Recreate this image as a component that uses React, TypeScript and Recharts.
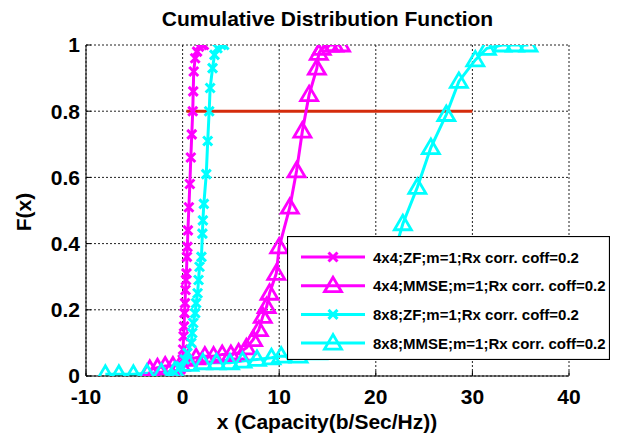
import React from "react";
import { LineChart, Line, XAxis, YAxis, CartesianGrid, Legend, Label } from "recharts";

const FONT = "'Liberation Sans', Arial, Helvetica, sans-serif";

const xTicks = [-10, 0, 10, 20, 30, 40];
const yTicks = [0, 0.2, 0.4, 0.6, 0.8, 1];

const seriesNames = [
  "4x4;ZF;m=1;Rx corr. coff=0.2",
  "4x4;MMSE;m=1;Rx corr. coff=0.2",
  "8x8;ZF;m=1;Rx corr. coff=0.2",
  "8x8;MMSE;m=1;Rx corr. coff=0.2",
];

// 4x4 ZF
const zf4Cap = [-1.0, -0.5, -0.2, 0.0, 0.05, 0.1, 0.15, 0.2, 0.25, 0.3, 0.35, 0.4, 0.45, 0.5, 0.55, 0.65, 0.75, 0.85, 0.95, 1.05, 1.1, 1.15, 1.3, 1.5, 1.7, 2.0, 2.2];
const zf4Cdf = [0.0, 0.005, 0.02, 0.05, 0.08, 0.12, 0.15, 0.19, 0.22, 0.26, 0.29, 0.31, 0.36, 0.39, 0.44, 0.51, 0.58, 0.66, 0.73, 0.8, 0.86, 0.92, 0.96, 0.98, 0.995, 1.0, 1.0];

// 4x4 MMSE
const mmse4Cap = [-3.4, -2.6, -1.8, -1.0, -0.2, 0.5, 1.4, 2.3, 3.2, 4.1, 5.0, 5.8, 6.6, 7.3, 7.9, 8.3, 8.7, 9.0, 9.7, 10.0, 11.1, 11.8, 12.4, 13.1, 13.9, 14.1, 14.4, 15.2, 15.7, 16.4];
const mmse4Cdf = [0.02, 0.025, 0.03, 0.03, 0.035, 0.05, 0.055, 0.06, 0.06, 0.065, 0.065, 0.07, 0.085, 0.11, 0.14, 0.18, 0.21, 0.25, 0.31, 0.39, 0.51, 0.62, 0.74, 0.85, 0.93, 0.975, 0.99, 1.0, 1.0, 1.0];

// 8x8 ZF
const zf8Cap = [-1.5, -0.8, -0.2, 0.2, 0.5, 0.9, 1.0, 1.1, 1.3, 1.4, 1.55, 1.65, 1.75, 1.95, 2.05, 2.1, 2.2, 2.45, 2.6, 2.75, 2.85, 3.1, 3.3, 3.6, 4.0, 4.3];
const zf8Cdf = [0.0, 0.01, 0.03, 0.05, 0.07, 0.1, 0.13, 0.16, 0.19, 0.22, 0.25, 0.29, 0.33, 0.36, 0.43, 0.47, 0.52, 0.61, 0.71, 0.8, 0.87, 0.93, 0.97, 0.99, 1.0, 1.0];

// 8x8 MMSE
const mmse8Cap = [-8.0, -6.6, -5.1, -3.7, -2.2, -0.8, 0.7, 2.1, 3.5, 4.9, 6.2, 7.7, 9.2, 10.2, 12.0, 14.0, 16.0, 18.0, 20.0, 21.5, 22.8, 24.3, 25.7, 27.3, 28.6, 30.3, 31.5, 33.1, 34.4, 35.8];
const mmse8Cdf = [0.005, 0.005, 0.005, 0.008, 0.01, 0.015, 0.035, 0.04, 0.04, 0.04, 0.045, 0.05, 0.055, 0.06, 0.06, 0.07, 0.08, 0.12, 0.2, 0.33, 0.46, 0.57, 0.69, 0.79, 0.89, 0.955, 0.99, 1.0, 1.0, 1.0];

// 0.8 reference level
const refCap = [0.4, 30];
const refCdf = [0.8, 0.8];

const zip = (xs: number[], ys: number[]) => xs.map((x, i) => ({ x, y: ys[i] }));

const series = [
  { name: seriesNames[0], color: "#ff00ff", marker: "x", data: zip(zf4Cap, zf4Cdf) },
  { name: seriesNames[1], color: "#ff00ff", marker: "tri", data: zip(mmse4Cap, mmse4Cdf) },
  { name: seriesNames[2], color: "#00ffff", marker: "x", data: zip(zf8Cap, zf8Cdf) },
  { name: seriesNames[3], color: "#00ffff", marker: "tri", data: zip(mmse8Cap, mmse8Cdf) },
];

function Marker({ cx, cy, color, kind }: any) {
  if (cx == null || cy == null) return null;
  if (kind === "x") {
    const s = 4.5;
    return (
      <path
        d={`M${cx - s},${cy - s}L${cx + s},${cy + s}M${cx - s},${cy + s}L${cx + s},${cy - s}`}
        stroke={color}
        strokeWidth={3}
        fill="none"
      />
    );
  }
  return (
    <path
      d={`M${cx},${cy - 8.5}L${cx - 8.5},${cy + 6}L${cx + 8.5},${cy + 6}Z`}
      stroke={color}
      strokeWidth={2.8}
      fill="none"
      strokeLinejoin="miter"
    />
  );
}

function LegendBox(props: any) {
  const shown = (props.payload || []).map((p: any) => p.value);
  const w = 323;
  const h = 124;
  return (
    <svg width={w} height={h} style={{ display: "block" }}>
      <rect x={0.5} y={0.5} width={w - 1} height={h - 1} fill="#fff" stroke="#000" strokeWidth={1.2} />
      {series
        .filter((s) => shown.includes(s.name))
        .map((s, i) => {
          const y = 21 + i * 28.7;
          return (
            <g key={s.name}>
              <line x1={14} x2={78} y1={y} y2={y} stroke={s.color} strokeWidth={3} />
              <Marker cx={46} cy={y} color={s.color} kind={s.marker} />
              <text x={86} y={y + 5.5} fontFamily={FONT} fontWeight="bold" fontSize={15} fill="#000">
                {s.name}
              </text>
            </g>
          );
        })}
    </svg>
  );
}

const tickStyle = { fill: "#000", fontSize: 21, fontWeight: "bold", fontFamily: FONT };

export default function App() {
  return (
    <div style={{ position: "absolute", left: 0, top: 0, width: 618, height: 442, background: "#fff" }}>
      <div
        style={{
          position: "absolute",
          left: 86,
          width: 483,
          top: 7,
          textAlign: "center",
          fontFamily: FONT,
          fontWeight: "bold",
          fontSize: 21,
          lineHeight: "24px",
          color: "#000",
        }}
      >
        Cumulative Distribution Function
      </div>
      <LineChart width={618} height={442} margin={{ top: 45, right: 49, left: 0, bottom: 0 }}>
        <CartesianGrid stroke="#222" strokeDasharray="2 2" strokeWidth={1} />
        <XAxis
          type="number"
          dataKey="x"
          domain={[-10, 40]}
          ticks={xTicks}
          allowDataOverflow
          height={66}
          tick={tickStyle}
          tickSize={-5}
          tickMargin={18}
          axisLine={{ stroke: "#000", strokeWidth: 1 }}
          tickLine={{ stroke: "#000" }}
        >
          <Label
            content={() => (
              <text x={327} y={429} textAnchor="middle" fontFamily={FONT} fontWeight="bold" fontSize={21} fill="#000">
                x (Capacity(b/Sec/Hz))
              </text>
            )}
          />
        </XAxis>
        <YAxis
          type="number"
          dataKey="y"
          domain={[0, 1]}
          ticks={yTicks}
          allowDataOverflow
          width={86}
          tick={tickStyle}
          tickSize={-5}
          tickMargin={11}
          axisLine={{ stroke: "#000", strokeWidth: 1 }}
          tickLine={{ stroke: "#000" }}
        >
          <Label
            content={() => (
              <text
                x={31}
                y={212}
                transform="rotate(-90 31 212)"
                textAnchor="middle"
                fontFamily={FONT}
                fontWeight="bold"
                fontSize={21}
                fill="#000"
              >
                F(x)
              </text>
            )}
          />
        </YAxis>
        <Line
          data={zip(refCap, refCdf)}
          dataKey="y"
          name="ref"
          stroke="#d42c0c"
          strokeWidth={3}
          dot={false}
          activeDot={false}
          legendType="none"
          isAnimationActive={false}
        />
        {series.map((s) => (
          <Line
            key={s.name}
            data={s.data}
            dataKey="y"
            name={s.name}
            stroke={s.color}
            strokeWidth={3}
            dot={(p: any) => <Marker key={`${s.name}-${p.index}`} cx={p.cx} cy={p.cy} color={s.color} kind={s.marker} />}
            activeDot={false}
            isAnimationActive={false}
          />
        ))}
        <Legend
          layout="vertical"
          align="center"
          verticalAlign="middle"
          content={LegendBox}
          wrapperStyle={{ left: 287, top: 236, width: 323, height: 124 }}
        />
      </LineChart>
    </div>
  );
}
